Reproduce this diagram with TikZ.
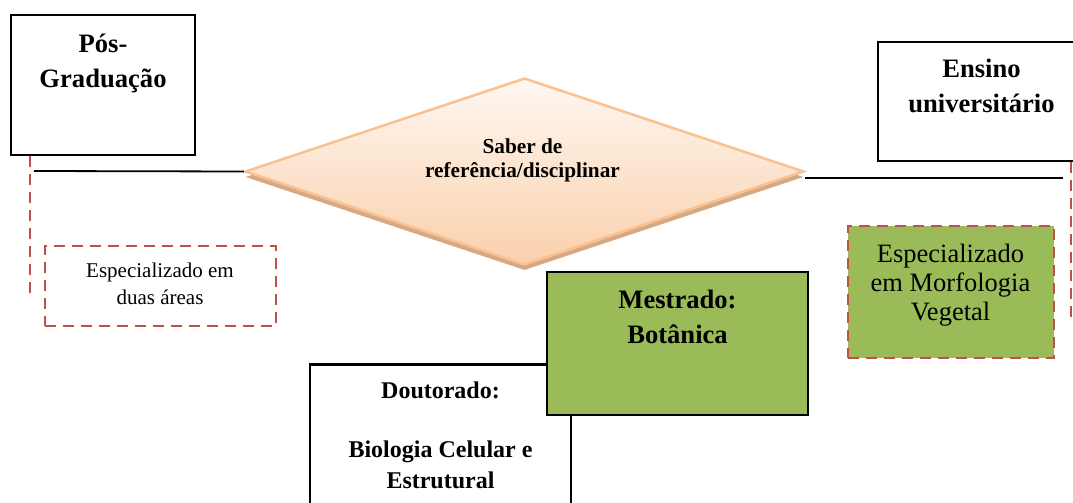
\documentclass[tikz,border=0pt]{standalone}
\usepackage{fontspec}
\setmainfont{Liberation Serif}
\usetikzlibrary{shapes.geometric,shadows}
\definecolor{redD}{HTML}{C0504D}
\definecolor{greenB}{HTML}{9BBB59}
\definecolor{diaEdge}{HTML}{FAC08F}
\definecolor{diaTop}{HTML}{FFF7F1}
\definecolor{diaBot}{HTML}{FAD0AC}
\definecolor{diaShadow}{HTML}{D6A883}
\begin{document}
\begin{tikzpicture}[x=1pt,y=-1pt,
  box/.style={draw=black,line width=2.1pt,inner sep=0pt,fill=white},
  dbox/.style={draw=redD,line width=2.8pt,dash pattern=on 11pt off 7pt,inner sep=0pt},
  reddash/.style={draw=redD,line width=2.8pt,dash pattern=on 11pt off 7pt},
  conn/.style={draw=black,line width=1.8pt},
  ttl/.style={font=\fontsize{26.6}{35}\selectfont\bfseries,align=center,anchor=base,inner sep=0pt},
  small/.style={font=\fontsize{21}{27}\selectfont,align=center,anchor=base,inner sep=0pt},
]
\useasboundingbox (0,0) rectangle (1073,503);
\clip (0,0) rectangle (1073,503);

% boxes
\node[box,minimum width=184pt,minimum height=140pt] (pos) at (103,85) {};
\node[dbox,minimum width=231pt,minimum height=80pt] (dua) at (160.5,286) {};
\node[diamond,draw=diaEdge,line width=2.5pt,top color=diaTop,bottom color=diaBot,
      minimum width=559pt,minimum height=187pt,inner sep=0pt,
      drop shadow={shadow xshift=0pt,shadow yshift=-5.5pt,fill=diaShadow,opacity=1}] (dia) at (524.5,171.5) {};
\node[box,minimum width=207pt,minimum height=119pt] (ens) at (981.5,101.5) {};
\node[dbox,fill=greenB,minimum width=206pt,minimum height=132pt] (morf) at (951,292) {};
\node[box,minimum width=261pt,minimum height=175pt] (dout) at (440.5,452) {};
\node[box,fill=greenB,minimum width=261pt,minimum height=143pt] (mest) at (677.5,343.5) {};

% texts (anchor=base is the last line's baseline)
\node[ttl] (posT) at (103,87) {Pós-\\Graduação};
\node[ttl] (ensT) at (981.5,112) {Ensino\\universitário};
\node[font=\fontsize{21.3}{24}\selectfont\bfseries,align=center,anchor=base,inner sep=0pt] (diaT) at (522.5,177) {Saber de\\referência/disciplinar};
\node[small] (duaT) at (160,304) {Especializado em\\duas áreas};
\node[font=\fontsize{26.5}{29}\selectfont,align=center,anchor=base,inner sep=0pt] (morfT) at (950.5,320) {Especializado\\em Morfologia\\Vegetal};
\node[ttl] (mestT) at (677.5,343) {Mestrado:\\Botânica};
\node[font=\fontsize{24}{31}\selectfont\bfseries,align=center,anchor=base,inner sep=0pt] (doutT) at (440.5,488) {Doutorado:\\[28pt]Biologia Celular e\\Estrutural};

% connectors
\coordinate (posL) at (34,171);
\draw[conn] (posL) -- (dia.west);
\coordinate (diaR) at (805,178);
\coordinate (ensL) at (1063,178);
\draw[conn] (diaR) -- (ensL);
\coordinate (posD) at (30,296);
\draw[reddash] (pos.south -| posD) -- (posD);
\coordinate (ensD) at (1071,320);
\draw[reddash] (ens.south -| ensD) -- (ensD);
\end{tikzpicture}
\end{document}
